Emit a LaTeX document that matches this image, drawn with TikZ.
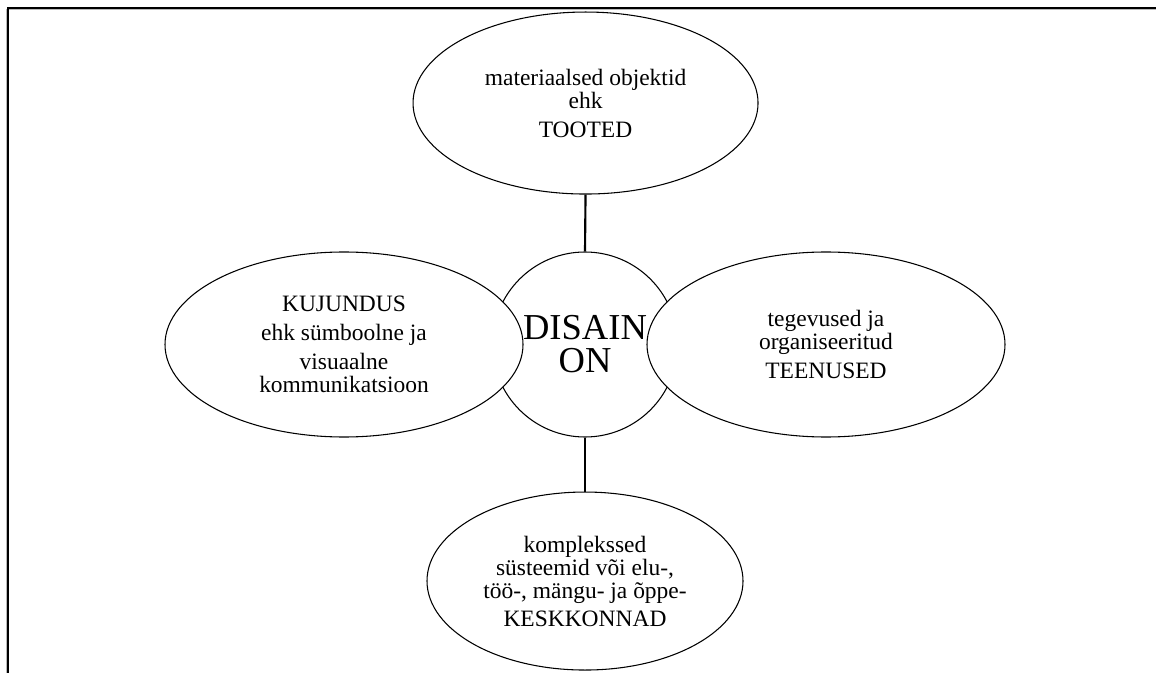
\documentclass[tikz,border=0pt]{standalone}
\usepackage{fontspec}
\setmainfont{Liberation Serif}
\usetikzlibrary{shapes.geometric}
\usetikzlibrary{positioning}

\begin{document}
\begin{tikzpicture}[x=0.75pt,y=-0.75pt]

    \tikzstyle{bubble}=[ellipse,draw,fill=white,line width=0.8pt,inner sep=0pt,align=center,font=\fontsize{17.6}{17.25}\selectfont]
    \tikzstyle{link}=[line width=1.6pt]
    \useasboundingbox (0,0) rectangle (1156,673);

% frame
\draw[gray!55,line width=0.8pt] (7,9.8) -- (1156,9.8);
\draw[gray!55,line width=0.8pt] (6.4,9) -- (6.4,673);
\draw[line width=1.5pt] (7.3,8.2) -- (1156,8.2);
\draw[line width=1.5pt] (8.2,7.3) -- (8.2,673);

\coordinate (middle) at (585,344.5);

\node (disain) [circle,draw,fill=white,line width=0.8pt,inner sep=0pt,minimum size=138.75pt,align=center,font=\fontsize{27.4}{24.75}\selectfont] at (middle) {DISAIN\\ON};

\node (kujundus) [bubble,minimum width=268.5pt,minimum height=138.75pt,xshift=-180.75pt] at (middle) {KUJUNDUS\\[4.5pt] ehk sümboolne ja\\[4.5pt] visuaalne\\ kommunikatsioon};
\node (teenused) [bubble,minimum width=268.5pt,minimum height=138.75pt,xshift=180.75pt] at (middle) {tegevused ja\\ organiseeritud\\[4.5pt] TEENUSED};
\node (tooted) [bubble,minimum width=258.75pt,minimum height=136.5pt,xshift=0.4pt,yshift=181.1pt] at (middle) {materiaalsed objektid\\ ehk\\[4.5pt] TOOTED};
\node (keskkond) [bubble,minimum width=237pt,minimum height=133.5pt,yshift=-177.4pt] at (middle) {komplekssed\\ süsteemid või elu-,\\ töö-, mängu- ja õppe-\\[3.8pt] KESKKONNAD};

\draw [link] (tooted.south) -- (disain.north);
\draw [link] (disain.south) -- (keskkond.north);

\end{tikzpicture}
\end{document}
